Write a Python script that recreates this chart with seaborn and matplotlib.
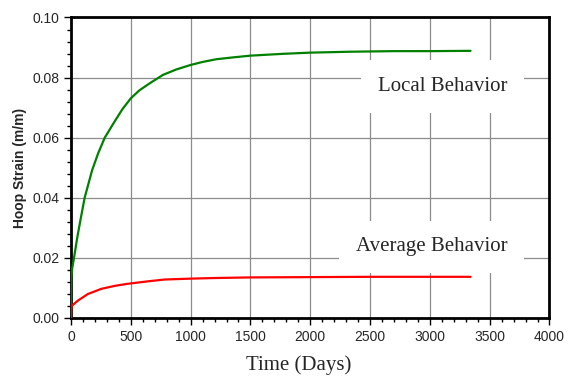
import numpy as np
import pandas as pd
import matplotlib
matplotlib.use("Agg")
import matplotlib.pyplot as plt
import seaborn as sns
from matplotlib.ticker import MultipleLocator, FormatStrFormatter

# values
local_days = [0, 1, 3, 10, 25, 53, 78, 114, 176, 226, 282, 371, 430, 500,
              570, 658, 769, 880, 1000, 1100, 1214, 1350, 1500, 1769, 2000, 2325, 2700, 3000, 3340]
local_strain = [0.0, 0.008, 0.0136, 0.0165, 0.020, 0.0269, 0.0324, 0.040, 0.0491, 0.0547,
                0.060, 0.0658, 0.0695, 0.0731, 0.0757, 0.0781, 0.0809, 0.0827, 0.0842,
                0.0852, 0.0861, 0.0867, 0.0873, 0.0879, 0.0883, 0.0886, 0.0888, 0.0888, 0.0889]
avg_days = [0, 2, 8, 58, 142, 254, 367, 462, 500, 644, 783, 1006, 1200, 1500,
            2000, 2500, 3000, 3340]
avg_strain = [0.0, 0.003, 0.0041, 0.0058, 0.0080, 0.0097, 0.0107, 0.0113, 0.0115, 0.0122,
              0.0128, 0.0131, 0.0133, 0.0135, 0.0136, 0.0137, 0.0137, 0.0137]

local_df = pd.DataFrame({"Days": local_days, "Strain": local_strain})
avg_df = pd.DataFrame({"Days": avg_days, "Strain": avg_strain})

sns.set_style("white")
plt.rcParams['font.family'] = ['Liberation Sans', 'DejaVu Sans']
serif = ["Liberation Serif", "DejaVu Serif"]

fig = plt.figure(figsize=(5.68, 3.76), dpi=100)
ax = fig.add_axes([0.125, 0.1543, 0.8424, 0.7992])

sns.lineplot(data=local_df, x="Days", y="Strain", color="#008000", linewidth=1.6, ax=ax, zorder=3)
sns.lineplot(data=avg_df, x="Days", y="Strain", color="#ff0000", linewidth=1.6, ax=ax, zorder=3)

ax.set_xlim(0, 4000)
ax.set_ylim(0, 0.10)
ax.xaxis.set_major_locator(MultipleLocator(500))
ax.xaxis.set_minor_locator(MultipleLocator(100))
ax.yaxis.set_major_locator(MultipleLocator(0.02))
ax.yaxis.set_minor_locator(MultipleLocator(0.004))
ax.yaxis.set_major_formatter(FormatStrFormatter("%.2f"))

ax.grid(True, which="major", color="#8c8c8c", linewidth=0.9, zorder=0)
ax.set_axisbelow(True)
for s in ax.spines.values():
    s.set_linewidth(2)
    s.set_color("black")

ax.tick_params(axis="both", which="major", direction="out", length=5, width=1,
               labelsize=10, bottom=True, left=True, color="black")
ax.tick_params(axis="both", which="minor", direction="out", length=3, width=1,
               bottom=True, left=True, color="black")

ax.set_xlabel("Time (Days)", fontsize=15, family=serif)
ax.set_ylabel("Hoop Strain (m/m)", fontsize=10, fontweight="bold")
ax.xaxis.set_label_coords(0.4765, -0.123)
ax.yaxis.set_label_coords(-0.092, 0.5)

ax.text(3106, 0.0770, "Local Behavior", fontsize=15, ha="center", va="center",
        family=serif, zorder=4,
        bbox=dict(facecolor="white", edgecolor="none", pad=12))
ax.text(3015, 0.0237, "Average Behavior", fontsize=15, ha="center", va="center",
        family=serif, zorder=4,
        bbox=dict(facecolor="white", edgecolor="none", pad=12))

fig.savefig("out.png", dpi=100)
